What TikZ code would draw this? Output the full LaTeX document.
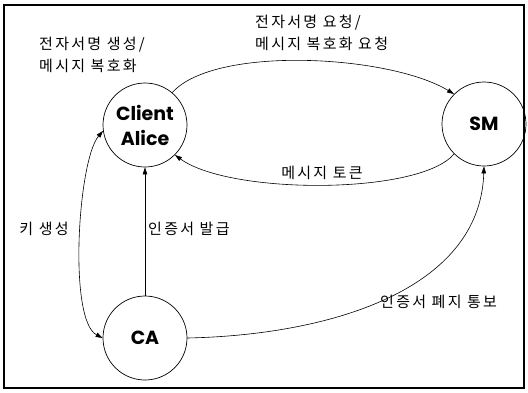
\documentclass[tikz,border=0pt]{standalone}
\usepackage{fontspec}
\newfontfamily\kr{Noto Sans CJK KR}[LetterSpace=15]
\newfontfamily\en{Poppins}
\usetikzlibrary{arrows.meta}
\begin{document}
\begin{tikzpicture}[x=1pt,y=-1pt,
  state/.style={circle,draw,line width=0.7pt,minimum size=84pt,inner sep=0pt,
    font=\en\bfseries\fontsize{19}{25}\selectfont,align=center},
  lbl/.style={font=\kr\fontsize{15}{22}\selectfont,inner sep=0pt,align=left},
  conn/.style={line width=0.6pt,-{Triangle[length=7pt,width=4.5pt]}},
  dconn/.style={line width=0.6pt,{Triangle[length=7pt,width=4.5pt]}-{Triangle[length=7pt,width=4.5pt]}}]
\useasboundingbox (0,0) rectangle (528,392);
\draw[line width=1.2pt] (4,5) rectangle (524,388);
\node[state] (client) at (145,125) {Client\\Alice};
\node[state] (sm) at (484,124) {SM};
\node[state] (ca) at (145,338) {CA};
\node[lbl,anchor=west] (l1) at (39,55) {전자서명 생성/\\메시지 복호화};
\node[lbl,anchor=west] (l2) at (255,33) {전자서명 요청/\\메시지 복호화 요청};
\node[lbl] (l3) at (322,173) {메시지 토큰};
\node[lbl] (l4) at (44,229) {키 생성};
\node[lbl,anchor=west] (l5) at (148,229) {인증서 발급};
\node[lbl,anchor=west] (l6) at (380,302) {인증서 폐지 통보};
\draw[conn] (client.50) .. controls (215,45) and (390,55) .. (sm.135);
\draw[conn] (sm.225) .. controls (420,195) and (230,195) .. (client.-45);
\draw[conn] (ca.north) -- (client.south);
\draw[dconn] (client.188) .. controls (78,160) and (68,320) .. (ca.180);
\draw[conn] (ca.east) .. controls (330,335) and (480,290) .. (sm.south);
\end{tikzpicture}
\end{document}
